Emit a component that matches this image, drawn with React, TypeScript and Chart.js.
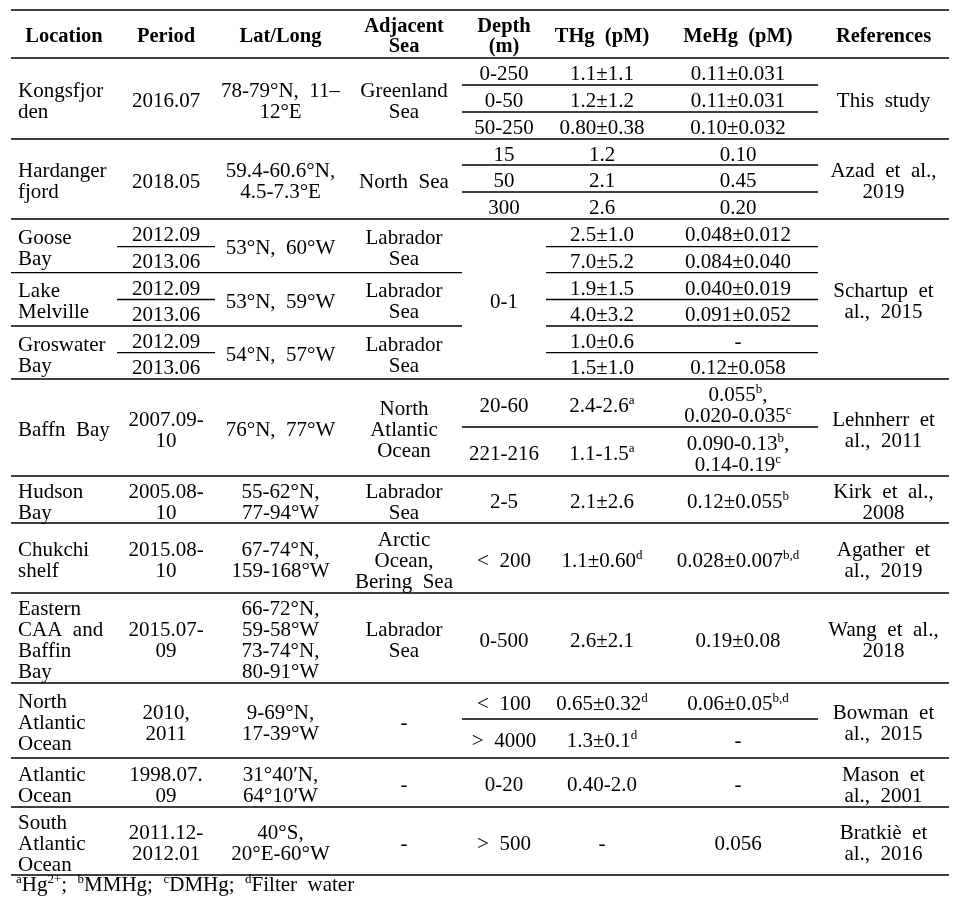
import React, { useEffect, useRef } from "react";
import { Chart, registerables } from "chart.js";

Chart.register(...registerables);

// ---------- table content ----------
const headers = ["Location", "Period", "Lat/Long", "Adjacent\nSea", "Depth\n(m)", "THg  (pM)", "MeHg  (pM)", "References"];

const locations = [
  "Kongsfjor\nden", "Hardanger\nfjord", "Goose\nBay", "Lake\nMelville", "Groswater\nBay", "Baffn  Bay",
  "Hudson\nBay", "Chukchi\nshelf", "Eastern\nCAA  and\nBaffin\nBay", "North\nAtlantic\nOcean", "Atlantic\nOcean", "South\nAtlantic\nOcean",
];

const periods = [
  "2016.07", "2018.05", "2012.09", "2013.06", "2012.09", "2013.06", "2012.09", "2013.06",
  "2007.09-\n10", "2005.08-\n10", "2015.08-\n10", "2015.07-\n09", "2010,\n2011", "1998.07.\n09", "2011.12-\n2012.01",
];

const latLongs = [
  "78-79°N,  11–\n12°E", "59.4-60.6°N,\n4.5-7.3°E", "53°N,  60°W", "53°N,  59°W", "54°N,  57°W", "76°N,  77°W",
  "55-62°N,\n77-94°W", "67-74°N,\n159-168°W", "66-72°N,\n59-58°W\n73-74°N,\n80-91°W", "9-69°N,\n17-39°W", "31°40′N,\n64°10′W", "40°S,\n20°E-60°W",
];

const adjacentSeas = [
  "Greenland\nSea", "North  Sea", "Labrador\nSea", "Labrador\nSea", "Labrador\nSea", "North\nAtlantic\nOcean",
  "Labrador\nSea", "Arctic\nOcean,\nBering  Sea", "Labrador\nSea", "-", "-", "-",
];

const depths = [
  "0-250", "0-50", "50-250", "15", "50", "300", "0-1", "20-60", "221-216",
  "2-5", "<  200", "0-500", "<  100", ">  4000", "0-20", ">  500",
];

const thgValues = [
  "1.1±1.1", "1.2±1.2", "0.80±0.38", "1.2", "2.1", "2.6",
  "2.5±1.0", "7.0±5.2", "1.9±1.5", "4.0±3.2", "1.0±0.6", "1.5±1.0",
  "2.4-2.6^{a}", "1.1-1.5^{a}", "2.1±2.6", "1.1±0.60^{d}", "2.6±2.1",
  "0.65±0.32^{d}", "1.3±0.1^{d}", "0.40-2.0", "-",
];

const mehgValues = [
  "0.11±0.031", "0.11±0.031", "0.10±0.032", "0.10", "0.45", "0.20",
  "0.048±0.012", "0.084±0.040", "0.040±0.019", "0.091±0.052", "-", "0.12±0.058",
  "0.055^{b},\n0.020-0.035^{c}", "0.090-0.13^{b},\n0.14-0.19^{c}", "0.12±0.055^{b}", "0.028±0.007^{b,d}", "0.19±0.08",
  "0.06±0.05^{b,d}", "-", "-", "0.056",
];

const references = [
  "This  study", "Azad  et  al.,\n2019", "Schartup  et\nal.,  2015", "Lehnherr  et\nal.,  2011", "Kirk  et  al.,\n2008",
  "Agather  et\nal.,  2019", "Wang  et  al.,\n2018", "Bowman  et\nal.,  2015", "Mason  et\nal.,  2001", "Bratkiè  et\nal.,  2016",
];

const footnote = "^{a}Hg^{2+};  ^{b}MMHg;  ^{c}DMHg;  ^{d}Filter  water";

// ---------- layout (scale units) ----------
const COL_EDGES = [11, 117, 215, 346, 462, 546, 658, 818, 949];
const TOP_RULE = 10;
const HEAD_RULE = 58;
const MAIN_EDGES = [58, 139, 219, 272.7, 326, 379, 476, 523, 593, 683, 758, 807, 875];
const PERIOD_EDGES = [58, 139, 219, 246.7, 272.7, 299.5, 326, 352.7, 379, 476, 523, 593, 683, 758, 807, 875];
const DEPTH_EDGES = [58, 85, 112, 139, 165, 192, 219, 379, 427, 476, 523, 593, 683, 719, 758, 807, 875];
const VALUE_EDGES = [58, 85, 112, 139, 165, 192, 219, 246.7, 272.7, 299.5, 326, 352.7, 379, 427, 476, 523, 593, 683, 719, 758, 807, 875];
const REF_EDGES = [58, 139, 219, 379, 476, 523, 593, 683, 758, 807, 875];
const FOOT_Y = 884;

const BODY_SIZE = 21;
const HEAD_SIZE = 20.5;
const SUP_SIZE = 13;
const LINE_H = 21;
const FONT_FAMILY = '"Liberation Serif", "Times New Roman", serif';

const columns = [
  { values: locations, edges: MAIN_EDGES, align: "left" },
  { values: periods, edges: PERIOD_EDGES, align: "center" },
  { values: latLongs, edges: MAIN_EDGES, align: "center" },
  { values: adjacentSeas, edges: MAIN_EDGES, align: "center" },
  { values: depths, edges: DEPTH_EDGES, align: "center" },
  { values: thgValues, edges: VALUE_EDGES, align: "center" },
  { values: mehgValues, edges: VALUE_EDGES, align: "center" },
  { values: references, edges: REF_EDGES, align: "center" },
];

type Seg = { t: string; sup: boolean };

function parseRich(s: string): Seg[] {
  const out: Seg[] = [];
  const re = /\^\{([^}]*)\}/g;
  let last = 0;
  let m: RegExpExecArray | null;
  while ((m = re.exec(s))) {
    if (m.index > last) out.push({ t: s.slice(last, m.index), sup: false });
    out.push({ t: m[1], sup: true });
    last = m.index + m[0].length;
  }
  if (last < s.length) out.push({ t: s.slice(last), sup: false });
  return out;
}

function fontStr(size: number, bold: boolean) {
  return `${bold ? "bold " : ""}${size}px ${FONT_FAMILY}`;
}

function drawRich(ctx: CanvasRenderingContext2D, text: string, x: number, baseline: number, align: string, size: number, bold: boolean) {
  const segs = parseRich(text);
  const widths = segs.map((s) => {
    ctx.font = fontStr(s.sup ? SUP_SIZE : size, bold);
    return ctx.measureText(s.t).width;
  });
  const total = widths.reduce((a, b) => a + b, 0);
  let cx = align === "left" ? x : x - total / 2;
  segs.forEach((s, i) => {
    ctx.font = fontStr(s.sup ? SUP_SIZE : size, bold);
    ctx.fillText(s.t, cx, s.sup ? baseline - 8 : baseline);
    cx += widths[i];
  });
}

const tablePlugin = {
  id: "tablePlugin",
  afterDraw(chart: any) {
    const ctx: CanvasRenderingContext2D = chart.ctx;
    const xs = chart.scales.x;
    const ys = chart.scales.y;
    const px = (v: number) => xs.getPixelForValue(v);
    const py = (v: number) => ys.getPixelForValue(v);
    ctx.save();
    ctx.fillStyle = "#000";
    ctx.strokeStyle = "#000";
    ctx.textAlign = "left";
    ctx.textBaseline = "alphabetic";

    const hline = (x0: number, x1: number, y: number, w: number) => {
      ctx.lineWidth = w;
      ctx.beginPath();
      ctx.moveTo(px(x0), py(y));
      ctx.lineTo(px(x1), py(y));
      ctx.stroke();
    };

    // rules
    hline(COL_EDGES[0], COL_EDGES[COL_EDGES.length - 1], TOP_RULE, 1.4);
    hline(COL_EDGES[0], COL_EDGES[COL_EDGES.length - 1], HEAD_RULE, 1.4);
    columns.forEach((col, ci) => {
      col.edges.forEach((e, ei) => {
        if (ei === 0) return;
        hline(COL_EDGES[ci], COL_EDGES[ci + 1], e, 1.3);
      });
    });

    // header
    headers.forEach((h, ci) => {
      const lines = h.split("\n");
      const c = (TOP_RULE + HEAD_RULE) / 2 + 1;
      const cxv = (COL_EDGES[ci] + COL_EDGES[ci + 1]) / 2;
      lines.forEach((ln, li) => {
        const lc = c + (li - (lines.length - 1) / 2) * 20.5;
        drawRich(ctx, ln, px(cxv), py(lc) + 7, "center", HEAD_SIZE, true);
      });
    });

    // body cells
    columns.forEach((col, ci) => {
      col.values.forEach((v, ri) => {
        const y0 = col.edges[ri];
        const y1 = col.edges[ri + 1];
        const lines = v.split("\n");
        const c = (y0 + y1) / 2 + 1.5;
        const xv = col.align === "left" ? COL_EDGES[ci] + 7 : (COL_EDGES[ci] + COL_EDGES[ci + 1]) / 2;
        lines.forEach((ln, li) => {
          const lc = c + (li - (lines.length - 1) / 2) * LINE_H;
          drawRich(ctx, ln, px(xv), py(lc) + 7, col.align, BODY_SIZE, false);
        });
      });
    });

    // footnote
    drawRich(ctx, footnote, px(COL_EDGES[0] + 5), py(FOOT_Y) + 7, "left", BODY_SIZE, false);
    ctx.restore();
  },
};

export default function App() {
  const ref = useRef<HTMLCanvasElement | null>(null);
  useEffect(() => {
    if (!ref.current) return;
    const anchors = columns.flatMap((col, ci) =>
      col.values.map((_, ri) => ({
        x: (COL_EDGES[ci] + COL_EDGES[ci + 1]) / 2,
        y: (col.edges[ri] + col.edges[ri + 1]) / 2,
      }))
    );
    const chart = new Chart(ref.current, {
      type: "scatter",
      data: { datasets: [{ data: anchors, pointRadius: 0, pointHoverRadius: 0 }] },
      options: {
        animation: false,
        responsive: false,
        events: [],
        layout: { padding: 0 },
        plugins: { legend: { display: false }, tooltip: { enabled: false } },
        scales: {
          x: { type: "linear", min: 0, max: 966, display: false },
          y: { type: "linear", min: 0, max: 922, reverse: true, display: false },
        },
      },
      plugins: [tablePlugin],
    });
    return () => chart.destroy();
  }, []);
  return (
    <div style={{ position: "fixed", left: 0, top: 0, width: 966, height: 922, background: "#fff" }}>
      <canvas ref={ref} width={966} height={922} style={{ display: "block", width: 966, height: 922 }} />
    </div>
  );
}
